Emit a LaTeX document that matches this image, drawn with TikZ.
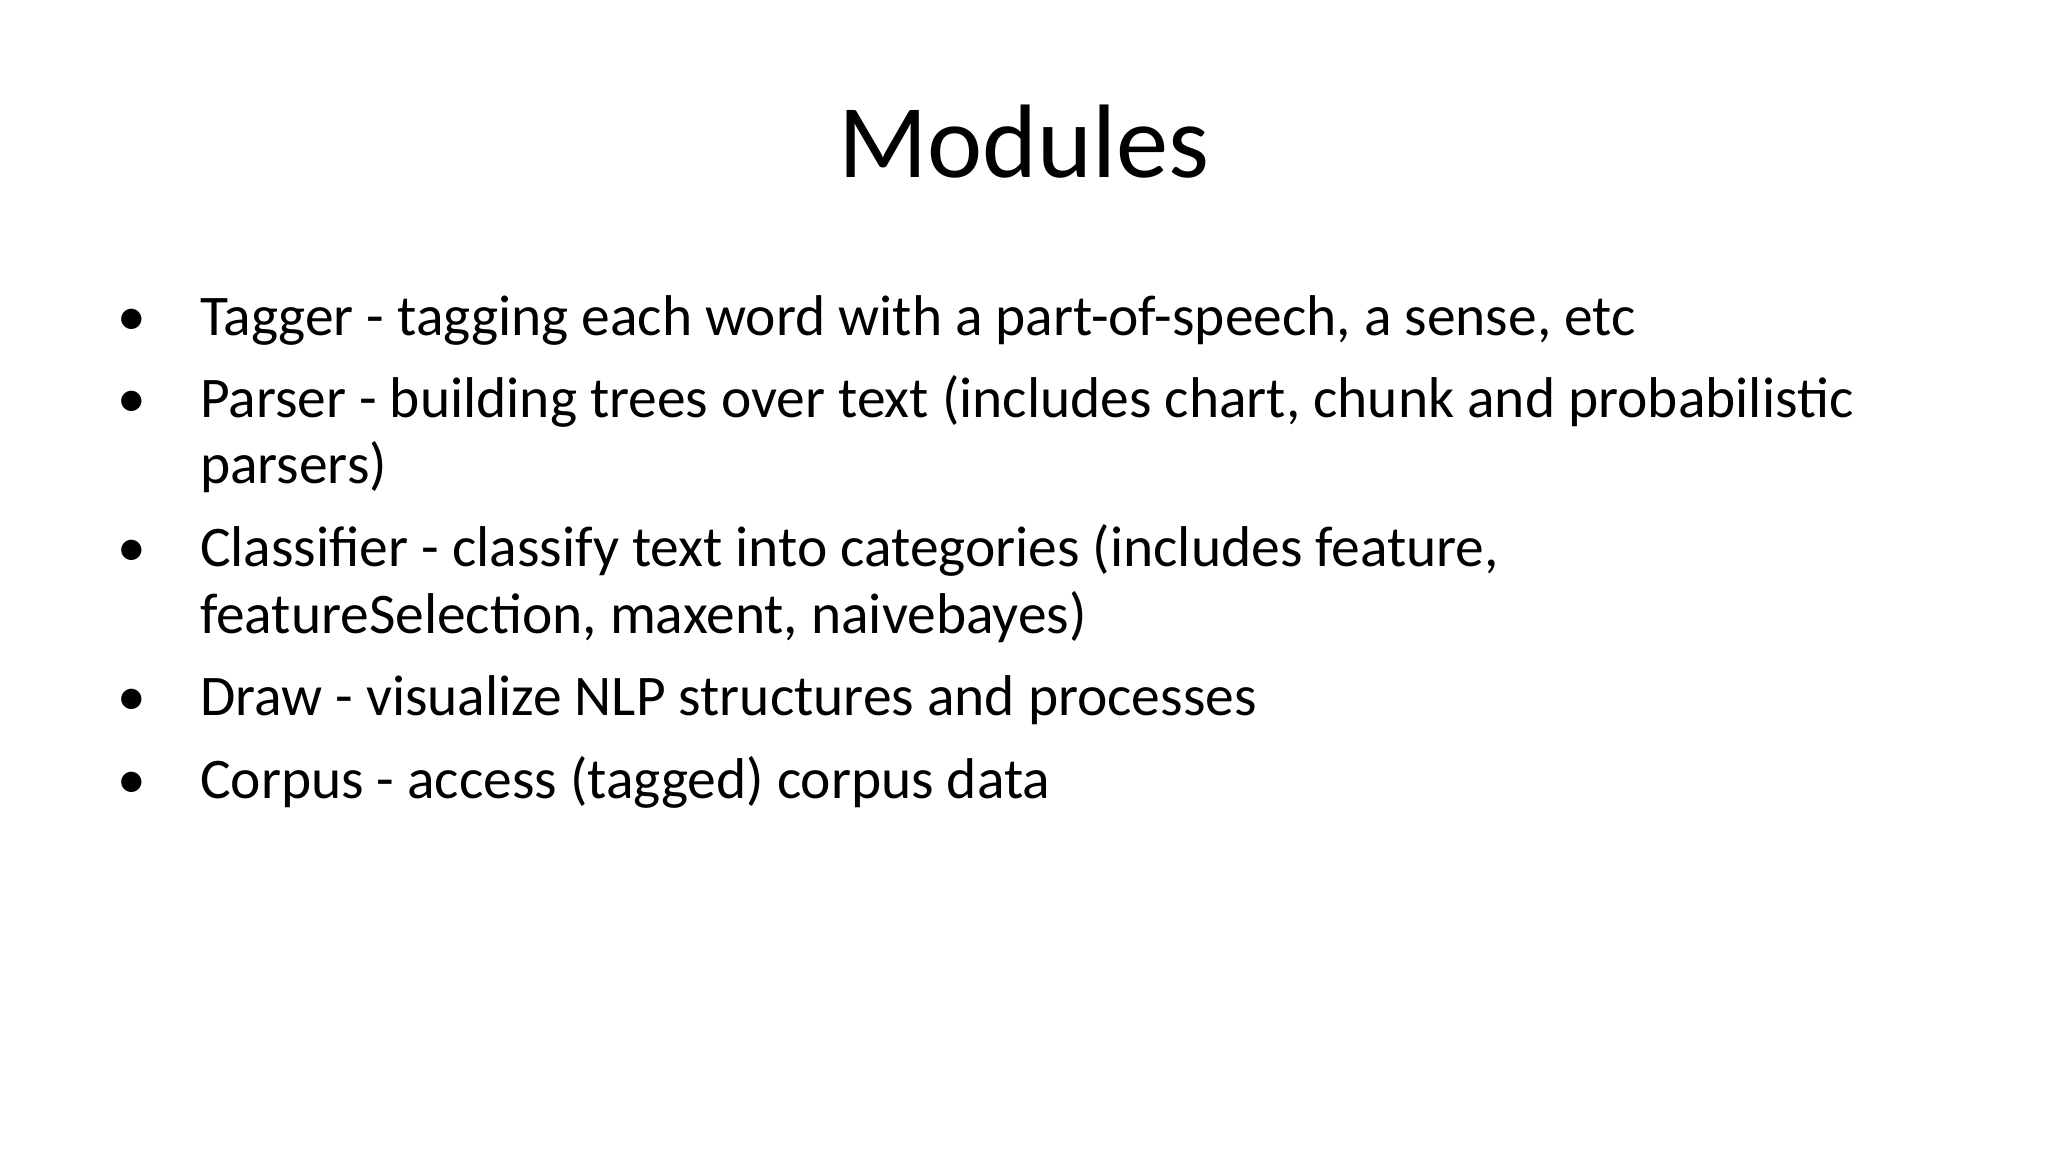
\documentclass[tikz,border=0pt]{standalone}
\usepackage{fontspec}
\setmainfont{Carlito}
\begin{document}
\begin{tikzpicture}[x=1pt,y=-1pt,
  txt/.style={anchor=base west,inner sep=0pt,font=\fontsize{44}{50}\selectfont},
  bul/.style={anchor=base,inner sep=0pt,font=\fontsize{44}{50}\selectfont}]
\useasboundingbox (0,0) rectangle (1568,882);
\node[anchor=base,inner sep=0pt,font=\fontsize{80}{90}\selectfont] (title) at (784,136) {Modules};
\node[bul] (b1) at (101,257) {•};
\node[txt] (t1) at (153,257) {Tagger - tagging each word with a part-of-speech, a sense, etc};
\node[bul] (b2) at (101,320) {•};
\node[txt] (t2) at (153,320) {Parser - building trees over text (includes chart, chunk and probabilistic};
\node[txt] (t2b) at (153,370) {parsers)};
\node[bul] (b3) at (101,434) {•};
\node[txt] (t3) at (153,434) {Classifier - classify text into categories (includes feature,};
\node[txt] (t3b) at (153,485) {featureSelection, maxent, naivebayes)};
\node[bul] (b4) at (101,548) {•};
\node[txt] (t4) at (153,548) {Draw - visualize NLP structures and processes};
\node[bul] (b5) at (101,611) {•};
\node[txt] (t5) at (153,611) {Corpus - access (tagged) corpus data};
\end{tikzpicture}
\end{document}
